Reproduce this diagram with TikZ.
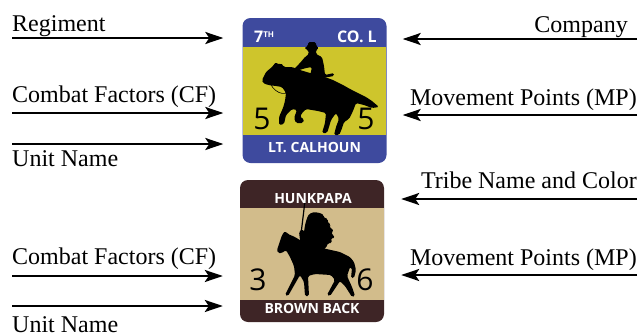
\documentclass[tikz,border=0pt]{standalone}
\usepackage{fontspec}
\setmainfont{Liberation Serif}
\newfontfamily\cfont{Open Sans}
\usetikzlibrary{arrows.meta}

\definecolor{cavblue}{HTML}{3E4A9E}
\definecolor{cavyellow}{HTML}{CEC52C}
\definecolor{tribebrown}{HTML}{3E2526}
\definecolor{tribetan}{HTML}{D2BC8B}

\tikzset{
  counter/.style={rounded corners=8pt, minimum width=144pt, inner sep=0pt, draw=none},
  callout/.style={font=\fontsize{24}{24}\selectfont, inner sep=0pt},
  pointer/.style={line width=2.4pt, -{Stealth[length=18pt,width=12pt,inset=4pt]}},
  bandtext/.style={font=\cfont\bfseries\fontsize{14}{14}\selectfont, text=white, inner sep=0pt},
  factor/.style={font=\cfont\fontsize{30}{30}\selectfont, inner sep=0pt},
  silhouette/.style={fill=black, rounded corners=1.5pt},
}

\begin{document}
\begin{tikzpicture}[x=1pt,y=-1pt]
\useasboundingbox (0,0) rectangle (638,335);

% ---------- cavalry counter ----------
\node[counter, minimum height=145pt, fill=cavblue,
  path picture={\fill[cavyellow, sharp corners]
    ([yshift=-29pt]path picture bounding box.north west) rectangle
    ([yshift=28pt]path picture bounding box.south east);}]
  (cav) at (314.5,90.5) {};

% horse and trooper
\fill[silhouette]
  (262,80) -- (266,72) -- (272,67) -- (276,62) -- (279,65) -- (281,63) -- (284,67)
  -- (292,67) -- (300,70) -- (310,73) -- (322,76) -- (333,80) -- (343,85) -- (350,89)
  -- (358,93) -- (366,97) -- (372,101) -- (379,107) -- (372,108) -- (364,105)
  -- (356,103) -- (353,111) -- (349,119) -- (344,122) -- (341,131) -- (339,135)
  -- (334,135) -- (336,127) -- (339,119) -- (336,113) -- (331,120) -- (329,127)
  -- (327,133) -- (322,133) -- (325,123) -- (326,113) -- (318,111) -- (306,109)
  -- (302,113) -- (300,117) -- (304,119) -- (303,123) -- (296,123) -- (294,118)
  -- (297,110) -- (292,109) -- (286,115) -- (284,124) -- (279,125) -- (279,117)
  -- (283,108) -- (285,101) -- (286,93) -- (282,87) -- (276,86) -- (268,85)
  -- (263,83) -- cycle;
\fill[silhouette]
  (304,48) -- (308,46) -- (308,42) -- (316,42) -- (316,46) -- (319,48) -- (316,50)
  -- (316,54) -- (322,57) -- (324,66) -- (325,75) -- (334,73) -- (334,76)
  -- (322,78) -- (310,76) -- (312,67) -- (306,68) -- (296,71) -- (294,69)
  -- (300,63) -- (305,57) -- (309,54) -- (308,50) -- cycle;
\draw[line width=0.6pt] (270,83) .. controls (276,96) and (290,96) .. (288,88);

\node[bandtext, anchor=base west, font=\cfont\bfseries\fontsize{16}{16}\selectfont]
  (reg) at (254,42) {7\raisebox{5pt}{\fontsize{8}{8}\selectfont TH}};
\node[bandtext, anchor=base east, font=\cfont\bfseries\fontsize{16}{16}\selectfont]
  (co) at (377,42) {CO. L};
\node[bandtext, anchor=base] (cavname) at (314.5,152) {LT. CALHOUN};
\node[factor, anchor=base] (cavcf) at (262,129) {5};
\node[factor, anchor=base] (cavmp) at (366,129) {5};

% ---------- tribe counter ----------
\node[counter, minimum height=142pt, fill=tribebrown,
  path picture={\fill[tribetan, sharp corners]
    ([yshift=-28pt]path picture bounding box.north west) rectangle
    ([yshift=22pt]path picture bounding box.south east);}]
  (tribe) at (312,251) {};

% horse and warrior
\fill[silhouette]
  (277,250) -- (280,241) -- (282,235) -- (285,231) -- (288,234) -- (295,237)
  -- (303,242) -- (312,246) -- (322,248) -- (340,252) -- (350,257) -- (354,262)
  -- (356,270) -- (354,278) -- (351,278) -- (352,268) -- (350,267) -- (347,276)
  -- (352,287) -- (355,296) -- (352,297) -- (345,286) -- (340,281) -- (330,296)
  -- (327,295) -- (335,280) -- (331,275) -- (315,274) -- (308,276) -- (309,296)
  -- (305,296) -- (304,282) -- (300,275) -- (288,296) -- (285,295) -- (295,275)
  -- (294,266) -- (290,257) -- (286,250) -- (282,253) -- (278,253) -- cycle;
\fill[silhouette]
  (309,214) -- (314,212) -- (320,213) -- (324,215) -- (323,217) -- (328,219)
  -- (327,221) -- (331,225) -- (329,226) -- (334,231) -- (331,232) -- (335,238)
  -- (331,238) -- (332,243) -- (328,243) -- (326,248) -- (318,252) -- (306,252)
  -- (307,262) -- (304,262) -- (302,250) -- (300,240) -- (299,232) -- (302,229)
  -- (304,232) -- (305,225) -- (307,218) -- cycle;
\draw[line width=1.2pt] (305,201) -- (301,234);

\node[bandtext, anchor=base] (tribename) at (313,203) {HUNKPAPA};
\node[bandtext, anchor=base] (leader) at (312,313) {BROWN BACK};
\node[factor, anchor=base] (tribecf) at (258,290) {3};
\node[factor, anchor=base] (tribemp) at (365,290) {6};

% ---------- callouts, cavalry ----------
\node[callout, anchor=base west] (lreg) at (12,31) {Regiment};
\node[callout, anchor=base west] (lcf1) at (12,102) {Combat Factors (CF)};
\node[callout, anchor=base west] (lun1) at (12,166) {Unit Name};
\node[callout, anchor=base east] (lco) at (628,32) {Company};
\node[callout, anchor=base east] (lmp1) at (637,105) {Movement Points (MP)};

\coordinate (pReg) at (12,38);
\coordinate (pCf1) at (12,113);
\coordinate (pUn1) at (12,144);
\coordinate (pCo) at (637,39);
\coordinate (pMp1) at (637,115);
\draw[pointer, shorten >=19pt] (pReg) -- (pReg -| cav.west);
\draw[pointer, shorten >=19pt] (pCf1) -- (pCf1 -| cav.west);
\draw[pointer, shorten >=19pt] (pUn1) -- (pUn1 -| cav.west);
\draw[pointer, shorten >=16pt] (pCo) -- (pCo -| cav.east);
\draw[pointer, shorten >=16pt] (pMp1) -- (pMp1 -| cav.east);

% ---------- callouts, tribe ----------
\node[callout, anchor=base east] (ltr) at (637,188) {Tribe Name and Color};
\node[callout, anchor=base west] (lcf2) at (12,264) {Combat Factors (CF)};
\node[callout, anchor=base east] (lmp2) at (637,265) {Movement Points (MP)};
\node[callout, anchor=base west] (lun2) at (12,332) {Unit Name};

\coordinate (pTr) at (637,199);
\coordinate (pCf2) at (12,276);
\coordinate (pMp2) at (637,275);
\coordinate (pUn2) at (12,306);
\draw[pointer, shorten >=17pt] (pTr) -- (pTr -| tribe.east);
\draw[pointer, shorten >=17pt] (pCf2) -- (pCf2 -| tribe.west);
\draw[pointer, shorten >=17pt] (pMp2) -- (pMp2 -| tribe.east);
\draw[pointer, shorten >=17pt] (pUn2) -- (pUn2 -| tribe.west);
\end{tikzpicture}
\end{document}
